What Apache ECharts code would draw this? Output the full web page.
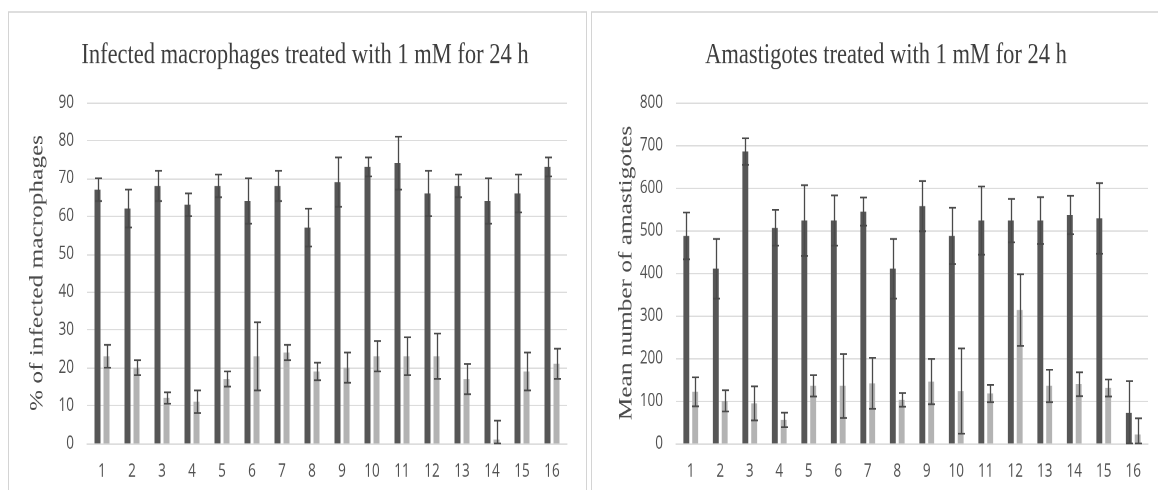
<!DOCTYPE html>
<html>
<head>
<meta charset="utf-8">
<script src="https://cdn.jsdelivr.net/npm/echarts@6/dist/echarts.min.js"></script>
<style>
html,body{margin:0;padding:0;background:#fff;overflow:hidden}
#wrap{width:1158px;height:490px;overflow:hidden}
#c{width:1158px;height:368px;transform:scaleY(1.3315);transform-origin:0 0}
</style>
</head>
<body>
<div id="wrap"><div id="c"></div></div>
<script>
var categories = ['1','2','3','4','5','6','7','8','9','10','11','12','13','14','15','16'];
var leftDark = [67,62,68,63,68,64,68,57,69,73,74,66,68,64,66,73];
var leftDarkErr = [3,5,4,3,3,6,4,5,6.5,2.5,7,6,3,6,5,2.5];
var leftLight = [23,20,12,11,17,23,24,19,20,23,23,23,17,1,19,21];
var leftLightErr = [3,2,1.5,3,2,9,2,2.3,4,4,5,6,4,5,5,4];
var rightDark = [487,410,685,506,523,523,544,410,557,487,523,523,523,536,528,72];
var rightDarkErr = [55,70,31,42,83,59,33,70,59,66,80,51,55,45,83,74];
var rightLight = [121,100,94,55,135,135,141,102,145,123,117,313,135,139,130,21];
var rightLightErr = [34,25,40,17,25,75,60,16,53,100,20,84,38,28,20,38];

var BARW = 0.2, GAP = 0.5;
function errData(vals, errs){
  return vals.map(function(v,i){ return [i, Math.max(0, v-errs[i]), v+errs[i]]; });
}
function errSeries(xi, vals, errs, side){
  return {
    type:'custom', xAxisIndex:xi, yAxisIndex:xi, z:5,
    data: errData(vals, errs),
    renderItem: function(params, api){
      var bw = api.size([1,0])[0];
      var w = bw*BARW;
      var off = side*(w + GAP*w)/2;
      var hi = api.coord([api.value(0), api.value(2)]);
      var lo = api.coord([api.value(0), api.value(1)]);
      var x = Math.round(hi[0]+off)+0.5;
      var cw = 3.5;
      var st = {stroke:'#4a4a4a', lineWidth:1.3};
      return {type:'group', children:[
        {type:'line', shape:{x1:x,y1:hi[1],x2:x,y2:lo[1]}, style:st},
        {type:'line', shape:{x1:x-cw,y1:hi[1],x2:x+cw,y2:hi[1]}, style:st},
        {type:'line', shape:{x1:x-cw,y1:lo[1],x2:x+cw,y2:lo[1]}, style:st}
      ]};
    }
  };
}
function xAx(gi){
  return {type:'category', gridIndex:gi, data:categories,
    axisLine:{show:true, lineStyle:{color:'#d9d9d9', width:1}},
    axisTick:{show:false},
    axisLabel:{color:'#505050', fontSize:13.5, fontFamily:'Open Sans', margin:14}};
}
function yAx(gi, max, interval, name, gap){
  return {type:'value', gridIndex:gi, min:0, max:max, interval:interval,
    name:name, nameLocation:'middle', nameGap:gap, nameRotate:90,
    nameTextStyle:{color:'#4a4a4a', fontSize:19, fontFamily:'Liberation Serif'},
    axisLine:{show:false}, axisTick:{show:false},
    splitLine:{lineStyle:{color:'#dcdcdc', width:1}},
    axisLabel:{color:'#505050', fontSize:13.5, fontFamily:'Open Sans', margin:13}};
}
var chart = echarts.init(document.getElementById('c'), null, {renderer:'canvas', devicePixelRatio:2});
chart.setOption({
  animation:false,
  backgroundColor:'#ffffff',
  title:[
    {text:'Infected macrophages treated with 1 mM for 24 h', left:300, top:25, textAlign:'center',
     textStyle:{fontFamily:'Liberation Serif', fontWeight:'normal', fontSize:22.5, color:'#3d3d3d'}},
    {text:'Amastigotes treated with 1 mM for 24 h', left:881, top:25, textAlign:'center',
     textStyle:{fontFamily:'Liberation Serif', fontWeight:'normal', fontSize:22.5, color:'#3d3d3d'}}
  ],
  graphic:[
    {type:'rect', shape:{x:8.5,y:9,width:578,height:400}, style:{fill:'none', stroke:'#d4d4d4', lineWidth:1}},
    {type:'rect', shape:{x:591.5,y:9,width:580,height:400}, style:{fill:'none', stroke:'#d4d4d4', lineWidth:1}}
  ],
  grid:[
    {left:87, right:591, top:77, bottom:35},
    {left:676, right:10, top:77, bottom:35}
  ],
  xAxis:[xAx(0), xAx(1)],
  yAxis:[yAx(0, 90, 10, '% of infected macrophages', 40), yAx(1, 800, 100, 'Mean number of amastigotes', 40)],
  series:[
    {type:'bar', xAxisIndex:0, yAxisIndex:0, data:leftDark, barWidth:'20%', barGap:'50%', itemStyle:{color:'#565656'}},
    {type:'bar', xAxisIndex:0, yAxisIndex:0, data:leftLight, barWidth:'20%', barGap:'50%', itemStyle:{color:'#b3b3b3'}},
    {type:'bar', xAxisIndex:1, yAxisIndex:1, data:rightDark, barWidth:'20%', barGap:'50%', itemStyle:{color:'#565656'}},
    {type:'bar', xAxisIndex:1, yAxisIndex:1, data:rightLight, barWidth:'20%', barGap:'50%', itemStyle:{color:'#b3b3b3'}},
    errSeries(0, leftDark, leftDarkErr, -1),
    errSeries(0, leftLight, leftLightErr, 1),
    errSeries(1, rightDark, rightDarkErr, -1),
    errSeries(1, rightLight, rightLightErr, 1)
  ]
});
</script>
</body>
</html>
